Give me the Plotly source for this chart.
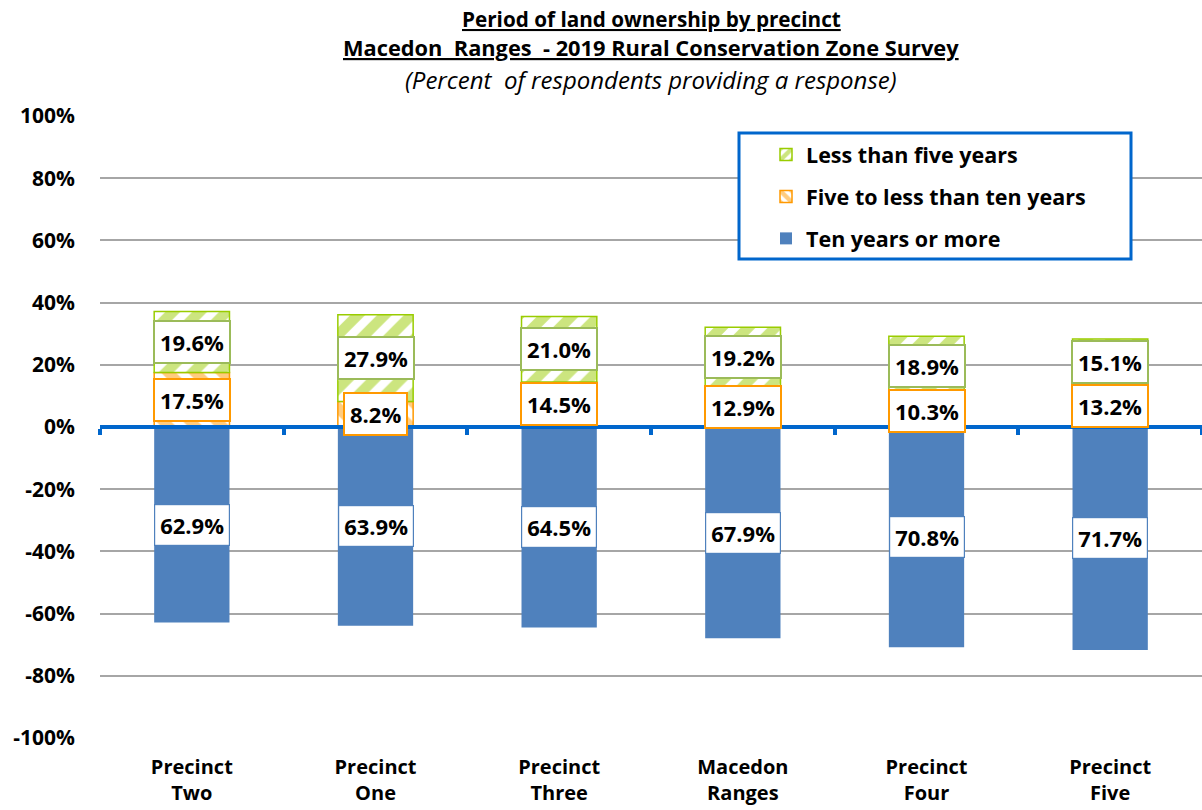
import plotly.graph_objects as go

# Survey results: share of respondents by period of land ownership
categories = ["Precinct<br>Two", "Precinct<br>One", "Precinct<br>Three",
              "Macedon<br>Ranges", "Precinct<br>Four", "Precinct<br>Five"]
ten_or_more = [62.9, 63.9, 64.5, 67.9, 70.8, 71.7]
five_to_ten = [17.5, 8.2, 14.5, 12.9, 10.3, 13.2]
under_five = [19.6, 27.9, 21.0, 19.2, 18.9, 15.1]

y_ticks = [-100, -80, -60, -40, -20, 0, 20, 40, 60, 80, 100]
y_tick_labels = ["-100%", "-80%", "-60%", "-40%", "-20%", "0%",
                 "20%", "40%", "60%", "80%", "100%"]
y_min, y_max = -100, 100

FONT = "'Open Sans', Lato, sans-serif"
BLUE = "#4F81BD"
ORANGE = "#FF9900"
GREEN = "#99CC00"
AXIS_BLUE = "#0066CC"
BAR_W = 0.41

fig = go.Figure()

# Long-term owners drawn below the zero line
fig.add_trace(go.Bar(
    x=categories, y=[-v for v in ten_or_more], name="Ten years or more",
    width=BAR_W, marker=dict(color=BLUE, line=dict(width=0)),
    legendgroup="ten", legendrank=3, hoverinfo="skip",
))
fig.add_trace(go.Bar(
    x=categories, y=five_to_ten, name="Five to less than ten years",
    width=BAR_W,
    marker=dict(color="white", line=dict(color=ORANGE, width=1.5),
                pattern=dict(shape="\\", fgcolor=ORANGE, bgcolor="white",
                             size=19, solidity=0.55)),
    legendgroup="five", legendrank=2, hoverinfo="skip",
))
fig.add_trace(go.Bar(
    x=categories, y=under_five, name="Less than five years",
    width=BAR_W,
    marker=dict(color="white", line=dict(color=GREEN, width=1.5),
                pattern=dict(shape="/", fgcolor=GREEN, bgcolor="white",
                             size=19, solidity=0.55)),
    legendgroup="under", legendrank=1, hoverinfo="skip",
))

# Invisible trace that carries the zero-line category axis
fig.add_trace(go.Scatter(
    x=categories, y=[0] * len(categories), xaxis="x2", mode="markers",
    marker=dict(opacity=0), showlegend=False, hoverinfo="skip",
))

annotations = []
label_font = dict(family=FONT, size=22, color="black")


def box_label(xv, yv, value, border, bw):
    annotations.append(dict(
        x=xv, y=yv, xref="x", yref="y", text=f"<b>{value:.1f}%</b>",
        showarrow=False, font=label_font, bgcolor="white",
        bordercolor=border, borderwidth=bw, borderpad=5,
        xanchor="center", yanchor="middle",
    ))


for c, t, f, u in zip(categories, ten_or_more, five_to_ten, under_five):
    box_label(c, -t / 2, t, BLUE, 1.2)
    box_label(c, f / 2, f, ORANGE, 2)
    box_label(c, f + u / 2, u, "#9BBB59", 2)

# Three-line heading above the plot area
PLOT_TOP, PLOT_BOTTOM = 116, 738


def paper_y(px):
    return (PLOT_BOTTOM - px) / (PLOT_BOTTOM - PLOT_TOP)


heading = [
    ("<b><u>Period of land ownership by precinct</u></b>", 19, 20.7),
    ("<b><u>Macedon  Ranges  - 2019 Rural Conservation Zone Survey</u></b>", 48, 21.8),
    ("<i>(Percent  of respondents providing a response)</i>", 80, 24),
]
for text, py, size in heading:
    annotations.append(dict(
        x=0.5, xref="paper", y=paper_y(py), yref="paper", text=text,
        showarrow=False, font=dict(family=FONT, size=size, color="black"),
        xanchor="center", yanchor="middle",
    ))

fig.update_layout(
    width=1202, height=810,
    margin=dict(l=100, r=0, t=PLOT_TOP, b=810 - PLOT_BOTTOM),
    paper_bgcolor="white", plot_bgcolor="white",
    barmode="relative", bargap=0.59,
    font=dict(family=FONT, color="black"),
    xaxis=dict(
        type="category", range=[-0.5, len(categories) - 0.5],
        showline=False, ticks="", showgrid=False,
        tickfont=dict(family=FONT, size=20, color="black", weight="bold"),
        ticklabelstandoff=15,
    ),
    xaxis2=dict(
        type="category", overlaying="x", anchor="free",
        position=(0 - y_min) / (y_max - y_min),
        range=[-0.5, len(categories) - 0.5],
        showline=True, linecolor=AXIS_BLUE, linewidth=4,
        ticks="outside", tickson="boundaries", ticklen=6, tickwidth=4,
        tickcolor=AXIS_BLUE, showticklabels=False, showgrid=False,
    ),
    yaxis=dict(
        range=[y_min, y_max], tickvals=y_ticks, ticktext=y_tick_labels,
        showgrid=True, gridcolor="#A6A6A6", gridwidth=1.5,
        zeroline=False, showline=False, ticks="",
        tickfont=dict(family=FONT, size=21, color="black", weight="bold"),
        ticklabelstandoff=24,
    ),
    legend=dict(
        x=(766 - 100) / 1102, y=paper_y(134), xanchor="left", yanchor="top",
        bgcolor="rgba(0,0,0,0)", borderwidth=0,
        traceorder="grouped", tracegroupgap=11,
        font=dict(family=FONT, size=21.5, color="black", weight="bold"),
    ),
    shapes=[dict(
        type="rect", xref="paper", yref="paper",
        x0=(739 - 100) / 1102, x1=(1131 - 100) / 1102,
        y0=paper_y(259), y1=paper_y(133),
        line=dict(color=AXIS_BLUE, width=3), fillcolor="white", layer="above",
    )],
    annotations=annotations,
    showlegend=True,
)

fig.write_html("out.html")
